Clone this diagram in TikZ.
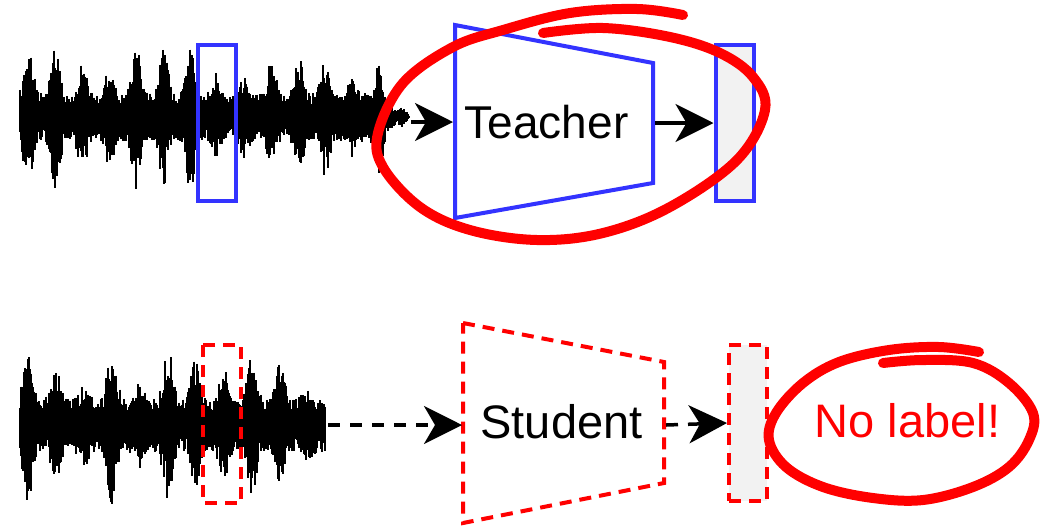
\documentclass[tikz,border=0pt]{standalone}
\usepackage{fontspec}
\setmainfont{Liberation Sans}
\usetikzlibrary{arrows.meta}
\definecolor{bl}{RGB}{51,51,255}
\definecolor{outfill}{RGB}{242,242,242}
\begin{document}
\begin{tikzpicture}[x=1pt,y=-1pt,
  wav/.style={line width=1.2pt,black},
  arr/.style={line width=3.5pt,black,-{Stealth[length=38pt,width=38pt,inset=11pt]}},
  darr/.style={arr,dash pattern=on 12pt off 10pt},
  bluebox/.style={draw=bl,line width=4pt},
  redbox/.style={draw=red,line width=4pt,dash pattern=on 12pt off 8pt},
  outT/.style={bluebox,fill=outfill,rectangle,inner sep=0pt,minimum width=38pt,minimum height=156pt},
  outS/.style={redbox,fill=outfill,rectangle,inner sep=0pt,minimum width=38pt,minimum height=156pt},
  circ/.style={red,line width=10pt,line cap=round,line join=round},
  lbl/.style={inner sep=0pt,anchor=base}
]
\useasboundingbox (0,0) rectangle (1056,528);
\fill[white] (0,0) rectangle (1056,528);

% ---- top waveform
\pgfmathsetseed{7}
\foreach \i in {0,...,389}{
  \pgfmathsetmacro\j{floor(\i/27)}
  \pgfmathsetmacro\h{mod(abs(sin(\j*127.1+11)*1000),1)}
  \pgfmathsetmacro\ph{sin(180*mod(\i+5,27)/27)}
  \pgfmathsetmacro\tp{ifthenelse(\i>350,(390-\i)/40,1)}
  \pgfmathsetmacro\env{\tp*(24+(12+46*\h)*\ph^4)}
  \pgfmathsetmacro\up{\env*(0.5+0.5*rnd)}
  \pgfmathsetmacro\dn{\env*(0.45+0.55*rnd)}
  \draw[wav] (20+\i,117-\up) -- (20+\i,117+\dn);
}
% ---- bottom waveform
\pgfmathsetseed{23}
\foreach \i in {0,...,305}{
  \pgfmathsetmacro\j{floor(\i/28)}
  \pgfmathsetmacro\h{mod(abs(sin(\j*91.7+37)*1000),1)}
  \pgfmathsetmacro\ph{sin(180*mod(\i+6,28)/28)}
  \pgfmathsetmacro\env{27+(12+46*\h)*\ph^4}
  \pgfmathsetmacro\up{\env*(0.5+0.5*rnd)}
  \pgfmathsetmacro\dn{\env*(0.45+0.55*rnd)}
  \draw[wav] (20+\i,425-\up) -- (20+\i,425+\dn);
}
\coordinate (wT) at (411,122);
\coordinate (wS) at (328,425);

% windows on waveforms
\draw[bluebox] (198,45) rectangle (236,201);
\draw[redbox] (203,345) rectangle (241,503);

% teacher
\draw[bluebox] (455,25) -- (653,63) -- (653,183) -- (455,218) -- cycle;
\coordinate (tIn) at (453,122);
\coordinate (tOut) at (655,123);
\node[lbl] (teacher) at (546.5,138) {\fontsize{46}{54}\selectfont Teacher};
\node[outT] (oT) at (734.5,123) {};
\draw[arr] (wT) -- (tIn);
\draw[arr] (tOut) -- (oT.west);

% student
\draw[redbox] (463,323) -- (664,362) -- (664,483) -- (463,523) -- cycle;
\coordinate (sIn) at (462,425);
\coordinate (sOut) at (666,425);
\node[lbl] (student) at (561.5,438) {\fontsize{47}{56}\selectfont Student};
\node[outS] (oS) at (748,423) {};
\draw[darr] (wS) -- (sIn);
\draw[darr] (sOut) -- (oS.west);

\node[lbl,text=red] (nolabel) at (907.5,437) {\fontsize{47}{56}\selectfont No label!};

% hand-drawn circles
\draw[circ] plot[smooth,tension=0.6] coordinates {
 (543,33) (603,28) (670,37) (720,53) (753,77) (765,110) (737,160) (670,207)
 (603,233) (537,240) (470,230) (420,207) (383,167) (378,133) (403,83)
 (453,47) (503,30) (570,13) (637,9) (683,15)};
\draw[circ] plot[smooth,tension=0.6] coordinates {
 (883,363) (923,360) (973,363) (1009,383) (1033,413) (1029,440) (1009,467)
 (973,487) (923,500) (873,498) (823,487) (786,467) (769,440) (776,413)
 (803,383) (839,362) (889,350) (939,347) (979,352)};
\end{tikzpicture}
\end{document}
